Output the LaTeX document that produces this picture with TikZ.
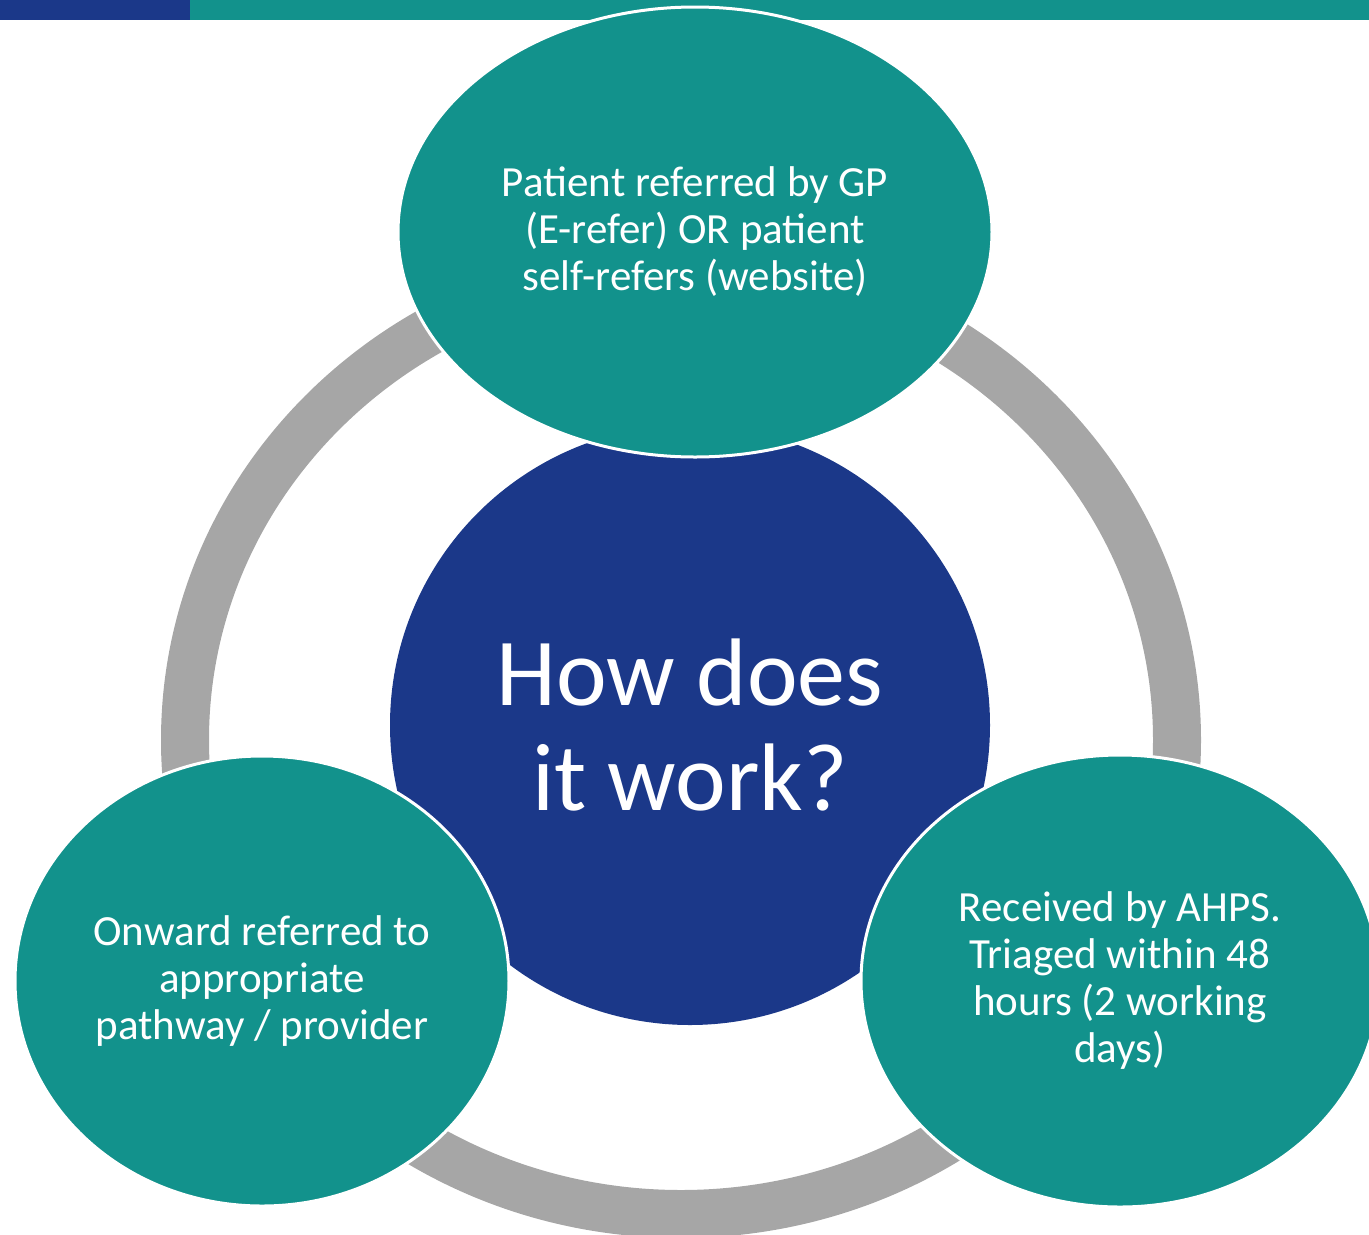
\documentclass[tikz,border=0pt]{standalone}
\usepackage{fontspec}
\setmainfont{Carlito}
\usetikzlibrary{shapes.geometric}

\definecolor{tealstep}{RGB}{18,146,140}
\definecolor{navyhub}{RGB}{27,56,137}
\definecolor{ringgray}{RGB}{166,166,166}

\tikzset{
  stage/.style={ellipse, fill=tealstep, draw=white, line width=3pt, text=white,
    align=center, inner sep=0pt, font=\fontsize{43}{47}\selectfont},
}

\begin{document}
\begin{tikzpicture}[x=1pt, y=-1pt]
  \clip (0,0) rectangle (1369,1235);

  % header bar
  \fill[navyhub] (0,0) rectangle (190,20);
  \fill[tealstep] (190,0) rectangle (1369,20);

  % grey cycle ring
  \node[ellipse, draw=ringgray, line width=48pt, minimum width=992pt, minimum height=948pt]
        (ring) at (681,740) {};

  % centre hub
  \node[circle, fill=navyhub, text=white, align=center, minimum size=600pt,
        font=\fontsize{96}{105}\selectfont] (hub) at (690,725) {How does\\it work?};

  % the three steps
  \node[stage, minimum width=594pt, minimum height=450pt] (referral)
        at (695,232) {Patient referred by GP\\(E-refer) OR patient\\self-refers (website)};

  \node[stage, minimum width=518pt, minimum height=452pt] (triage)
        at (1120,981) {Received by AHPS.\\Triaged within 48\\hours (2 working\\days)};

  \node[stage, minimum width=494pt, minimum height=450pt] (onward)
        at (262,981) {Onward referred to\\appropriate\\pathway / provider};

\end{tikzpicture}
\end{document}
